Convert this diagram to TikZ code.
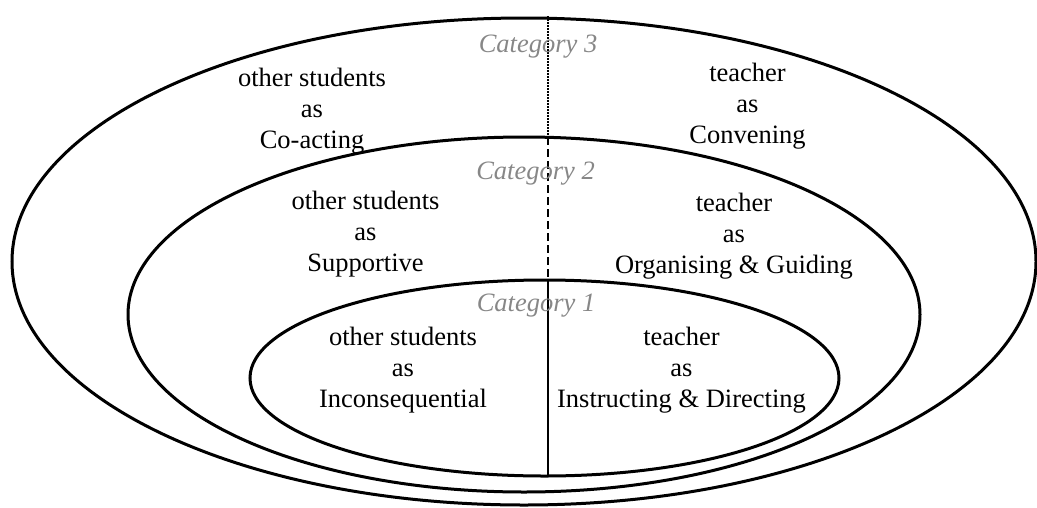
\documentclass[tikz,border=0pt]{standalone}
\usepackage{fontspec}
\setmainfont{Liberation Serif}
\usetikzlibrary{shapes.geometric}
\definecolor{catgray}{RGB}{135,135,135}
\tikzset{
  ring/.style={ellipse, draw=black, line width=3pt, inner sep=0pt, outer sep=0pt},
  lbl/.style={align=center, anchor=base, inner sep=0pt, font=\fontsize{26.5}{31}\selectfont},
  cat/.style={anchor=base, inner sep=0pt, text=catgray, font=\fontsize{26.5}{31}\selectfont\itshape},
  divider/.style={line width=1.4pt, black},
}
\begin{document}
\begin{tikzpicture}[x=1pt,y=-1pt]
\useasboundingbox (0,0) rectangle (1037,507);
% ellipses
\node[ring, minimum width=1024pt, minimum height=487pt] (outer) at (524,261.5) {};
\node[ring, minimum width=792pt, minimum height=355pt] (middle) at (524,314.5) {};
\node[ring, minimum width=589pt, minimum height=196pt] (inner) at (544.5,378) {};
% divider
\coordinate (d0) at (548,16);
\coordinate (d1) at (548,137);
\coordinate (d2) at (548,279);
\coordinate (d3) at (548,476);
\draw[divider, line width=1.2pt, dash pattern=on 1.5pt off 1.5pt] (d0) -- (d1);
\draw[divider, dash pattern=on 8pt off 4pt] (d1) -- (d2);
\draw[divider] (d2) -- (d3);
% category labels
\node[cat] (c3) at (538,52) {Category 3};
\node[cat] (c2) at (535.5,179) {Category 2};
\node[cat] (c1) at (536,311) {Category 1};
% texts (anchored at the baseline of the last line)
\node[lbl] (t3l) at (312,148) {other students\\as\\Co-acting};
\node[lbl] (t3r) at (747.5,143) {teacher\\as\\Convening};
\node[lbl] (t2l) at (365.5,271) {other students\\as\\Supportive};
\node[lbl] (t2r) at (734,273) {teacher\\as\\Organising \& Guiding};
\node[lbl] (t1l) at (403,407) {other students\\as\\Inconsequential};
\node[lbl] (t1r) at (681.5,407) {teacher\\as\\Instructing \& Directing};
\end{tikzpicture}
\end{document}
